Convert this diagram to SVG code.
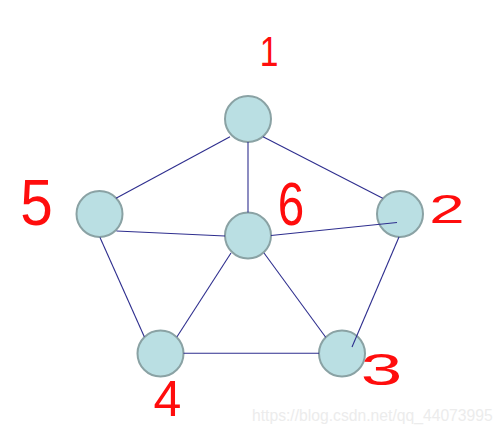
<svg xmlns="http://www.w3.org/2000/svg" width="504" height="433" viewBox="0 0 504 433">
<style>
.n{fill:#badfe3;stroke:#8aa2a4;stroke-width:2}
.e{stroke:#2e2e8e;stroke-width:1.1;fill:none}
.l{font-family:"Liberation Sans",Arial,sans-serif;fill:#ff0d0d;text-anchor:middle}
.w{font-family:"Liberation Sans",Arial,sans-serif;fill:#ececec;font-size:15.7px}
</style>
<rect width="504" height="433" fill="#ffffff"/>
<g id="node1"><circle class="n" cx="248" cy="119" r="23"/></g>
<g id="node2"><circle class="n" cx="400" cy="214" r="23"/></g>
<g id="node3"><circle class="n" cx="342" cy="353.5" r="23"/></g>
<g id="node4"><circle class="n" cx="160.5" cy="353.5" r="23"/></g>
<g id="node5"><circle class="n" cx="99.5" cy="214" r="23"/></g>
<g id="node6"><circle class="n" cx="248" cy="235.5" r="23"/></g>
<g id="connectors">
<line class="e" x1="230" y1="136.7" x2="116" y2="198.3"/>
<line class="e" x1="263" y1="136.7" x2="382.7" y2="198.3"/>
<line class="e" x1="248" y1="142" x2="248" y2="212.5"/>
<line class="e" x1="116.5" y1="231" x2="225" y2="236"/>
<line class="e" x1="271" y1="235.5" x2="397" y2="222.5"/>
<line class="e" x1="399" y1="237" x2="352" y2="347"/>
<line class="e" x1="231" y1="253" x2="177" y2="336.7"/>
<line class="e" x1="264" y1="253" x2="325.7" y2="337.3"/>
<line class="e" x1="100" y1="237.5" x2="144.3" y2="336.7"/>
<line class="e" x1="183.5" y1="353.3" x2="319" y2="353.3"/>
</g>
<g id="labels">
<text class="l" font-size="42" transform="translate(269,65.5) scale(0.8,1)">1</text>
<text class="l" font-size="41" transform="translate(447,223) scale(1.55,1)">2</text>
<text class="l" font-size="44" transform="translate(381.5,384.5) scale(1.7,1)">3</text>
<text class="l" font-size="50" transform="translate(167.5,415.5) scale(1,1)">4</text>
<text class="l" font-size="65" transform="translate(36.5,225) scale(0.9,1)">5</text>
<text class="l" font-size="61" transform="translate(291,225) scale(0.78,1)">6</text>
</g>
<text class="w" x="252" y="421">https://blog.csdn.net/qq_44073995</text>
</svg>
